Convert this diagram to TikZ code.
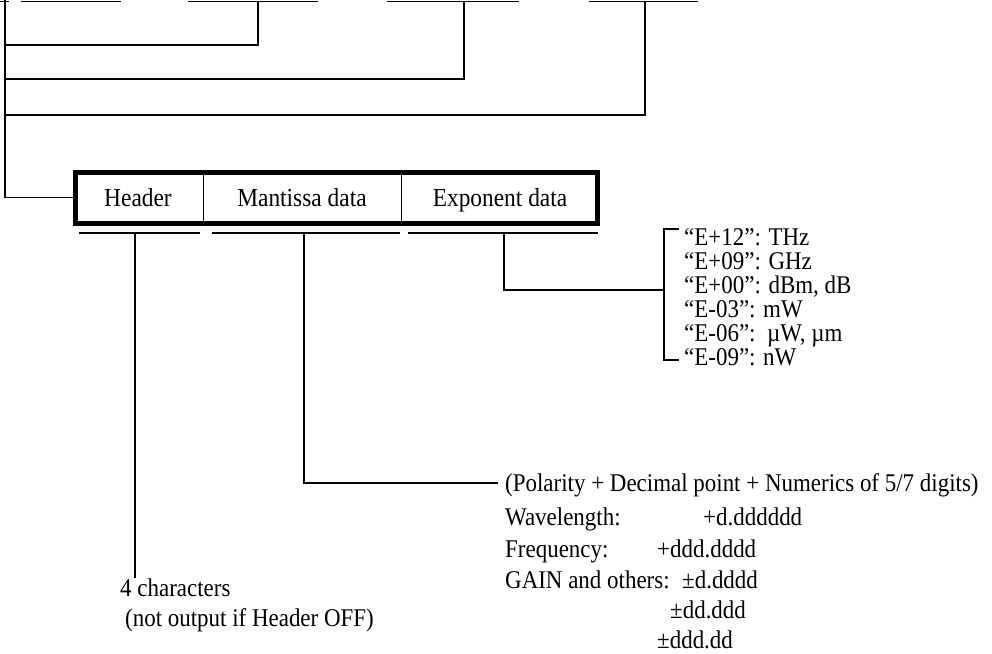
\documentclass[tikz,border=0pt]{standalone}
\usepackage{fontspec}
\setmainfont{Liberation Serif}[FakeStretch=0.9]
\begin{document}
\begin{tikzpicture}[x=1pt,y=-1pt,
  ln/.style={line width=1.3pt,line cap=rect},
  txt/.style={font=\fontsize{25.5}{28}\selectfont,inner sep=0pt,anchor=base west},
  field/.style={draw=black,line width=1pt,minimum height=55pt,inner sep=0pt,
    text height=17pt,text depth=0pt,font=\fontsize{26}{28}\selectfont}]
\useasboundingbox (0,0) rectangle (992,653);
% ---- record box
\node[field,minimum width=130pt] (hdr) at (138,197.5) {Header};
\node[field,minimum width=198pt] (mant) at (302,197.5) {Mantissa data};
\node[field,minimum width=198pt] (expo) at (500,197.5) {Exponent data};
\draw[line width=5pt] ([xshift=2.5pt,yshift=-2.5pt]hdr.north west) rectangle ([xshift=-2.5pt,yshift=2.5pt]expo.south east);
% ---- top fragments
\coordinate (t0a) at (0,1.5);   \coordinate (t0b) at (8,1.5);
\coordinate (t1a) at (22,1.5);  \coordinate (t1b) at (120,1.5);
\coordinate (t2a) at (189,1.5); \coordinate (t2b) at (317,1.5);
\coordinate (t3a) at (388,1.5); \coordinate (t3b) at (518,1.5);
\coordinate (t4a) at (590,1.5); \coordinate (t4b) at (697,1.5);
\foreach \i in {0,...,4} {\draw[ln] (t\i a) -- (t\i b);}
\coordinate (s2) at (258,1.5);
\coordinate (s3) at (464,1.5);
\coordinate (s4) at (645,1.5);
\coordinate (L0) at (5,0);
\coordinate (L1) at (5,45);
\coordinate (L2) at (5,79);
\coordinate (L3) at (5,115);
\coordinate (L4) at (5,197.5);
\draw[ln] (L0) -- (L4) -- (hdr.west);
\draw[ln] (L1) -| (s2);
\draw[ln] (L2) -| (s3);
\draw[ln] (L3) -| (s4);
% ---- underlines
\coordinate (uh1) at (80,233);  \coordinate (uh2) at (199,233);
\coordinate (um1) at (213,233); \coordinate (um2) at (399,233);
\coordinate (ue1) at (409,233); \coordinate (ue2) at (597,233);
\draw[ln] (uh1) -- (uh2);
\draw[ln] (um1) -- (um2);
\draw[ln] (ue1) -- (ue2);
% ---- exponent list
\node[txt] (e1) at (684,245) {“E+12”: THz};
\node[txt] (e2) at (684,269) {“E+09”: GHz};
\node[txt] (e3) at (684,293) {“E+00”: dBm, dB};
\node[txt] (e4) at (684,317) {“E-03”: mW};
\node[txt] (e5) at (684,341) {“E-06”:\ \ µW, µm};
\node[txt] (e6) at (684,365) {“E-09”: nW};
\coordinate (bt) at (664,229);
\coordinate (bb) at (664,360);
\coordinate (bl) at (664,290);
\draw[ln] ([xshift=-6pt]e1.north west |- bt) -- (bt) -- (bb) -- ([xshift=-6pt]e6.west |- bb);
\coordinate (es) at (504,233);
\draw[ln] (es) |- (bl);
% ---- mantissa description
\node[txt] (pol) at (505,491) {(Polarity + Decimal point + Numerics of 5/7 digits)};
\node[txt] (wl) at (505,525) {Wavelength:};
\node[txt] (fq) at (505,557) {Frequency:};
\node[txt] (gn) at (505,588) {GAIN and others:};
\node[txt] (v1) at (703,525) {+d.dddddd};
\node[txt] (v2) at (657,557) {+ddd.dddd};
\node[txt] (v3) at (682,588) {±d.dddd};
\node[txt] (v4) at (670,618) {±dd.ddd};
\node[txt] (v5) at (657,648) {±ddd.dd};
\coordinate (ms) at (304,233);
\coordinate (me) at (497,483);
\draw[ln] (ms) |- (me);
% ---- header description
\node[txt] (c1) at (120,596) {4 characters};
\node[txt] (c2) at (125,626) {(not output if Header OFF)};
\coordinate (hs) at (135,233);
\coordinate (he) at (135,577);
\draw[ln] (hs) -- (he);
\end{tikzpicture}
\end{document}
